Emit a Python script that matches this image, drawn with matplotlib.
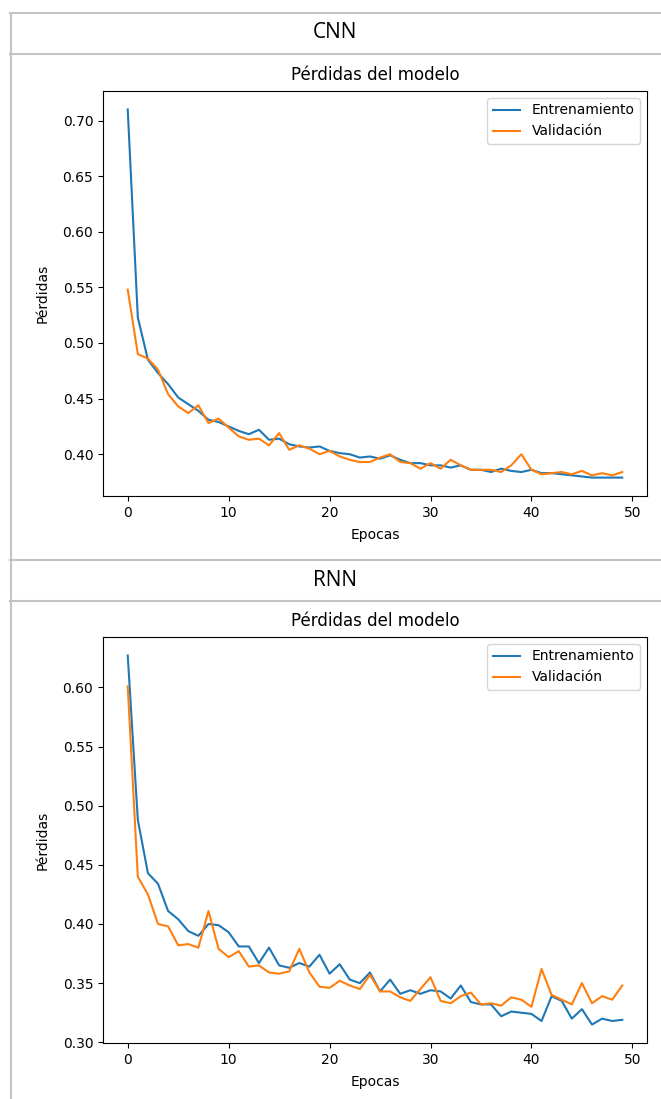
import matplotlib.pyplot as plt
from matplotlib.lines import Line2D

# Epoch index
epochs = list(range(50))

# CNN losses
cnn_train = [0.710, 0.523, 0.485, 0.473, 0.463, 0.451, 0.445, 0.439, 0.431, 0.429,
             0.425, 0.421, 0.418, 0.422, 0.413, 0.414, 0.409, 0.407, 0.406, 0.407,
             0.403, 0.401, 0.400, 0.397, 0.398, 0.396, 0.399, 0.395, 0.392, 0.392,
             0.390, 0.390, 0.388, 0.390, 0.386, 0.386, 0.384, 0.387, 0.385, 0.384,
             0.386, 0.383, 0.383, 0.382, 0.381, 0.380, 0.379, 0.379, 0.379, 0.379]
cnn_val = [0.548, 0.490, 0.486, 0.476, 0.454, 0.443, 0.437, 0.444, 0.428, 0.432,
           0.424, 0.416, 0.413, 0.414, 0.408, 0.419, 0.404, 0.408, 0.405, 0.400,
           0.403, 0.398, 0.395, 0.393, 0.393, 0.397, 0.400, 0.393, 0.392, 0.387,
           0.392, 0.387, 0.395, 0.390, 0.386, 0.386, 0.386, 0.384, 0.390, 0.400,
           0.386, 0.382, 0.383, 0.384, 0.382, 0.385, 0.381, 0.383, 0.381, 0.384]

# RNN losses
rnn_train = [0.627, 0.488, 0.443, 0.434, 0.411, 0.404, 0.394, 0.390, 0.400, 0.399,
             0.393, 0.381, 0.381, 0.367, 0.380, 0.365, 0.363, 0.367, 0.364, 0.374,
             0.358, 0.366, 0.353, 0.350, 0.359, 0.343, 0.353, 0.341, 0.344, 0.341,
             0.344, 0.343, 0.337, 0.348, 0.334, 0.332, 0.332, 0.322, 0.326, 0.325,
             0.324, 0.318, 0.339, 0.335, 0.320, 0.328, 0.315, 0.320, 0.318, 0.319]
rnn_val = [0.601, 0.440, 0.425, 0.400, 0.398, 0.382, 0.383, 0.380, 0.411, 0.379,
           0.372, 0.377, 0.364, 0.365, 0.359, 0.358, 0.360, 0.379, 0.359, 0.347,
           0.346, 0.352, 0.348, 0.345, 0.357, 0.343, 0.343, 0.338, 0.335, 0.345,
           0.355, 0.335, 0.333, 0.339, 0.342, 0.332, 0.333, 0.331, 0.338, 0.336,
           0.330, 0.362, 0.340, 0.336, 0.332, 0.350, 0.333, 0.339, 0.336, 0.348]

models = ['CNN', 'RNN']
series = [(cnn_train, cnn_val), (rnn_train, rnn_val)]

W, H = 661, 1099
fig = plt.figure(figsize=(W / 100, H / 100), dpi=100)


def fx(px):
    return px / W


def fy(py):
    return 1 - py / H


# table grid lines (no right border in the reference)
grid = '#c4c4c4'
for y in [13, 54, 560, 601]:
    fig.add_artist(Line2D([fx(10), 1], [fy(y), fy(y)], color=grid, lw=1.5))
fig.add_artist(Line2D([fx(11), fx(11)], [fy(13), 0], color=grid, lw=1.5))

header_y = [33, 580]
axes_box = [(103, 91, 647, 496), (103, 637, 647, 1043)]

for name, hy, box, (tr, va) in zip(models, header_y, axes_box, series):
    fig.text(fx(335), fy(hy), name, ha='center', va='center', fontsize=15,
             family='Open Sans')
    l, t, r, b = box
    ax = fig.add_axes([fx(l), fy(b), fx(r) - fx(l), fy(t) - fy(b)])
    ax.plot(epochs, tr, label='Entrenamiento')
    ax.plot(epochs, va, label='Validación')
    ax.set_title('Pérdidas del modelo', pad=8)
    ax.set_xlabel('Epocas', labelpad=6)
    ax.set_ylabel('Pérdidas', labelpad=9)
    ax.legend(loc='upper right')

fig.savefig('out.png', dpi=100)
